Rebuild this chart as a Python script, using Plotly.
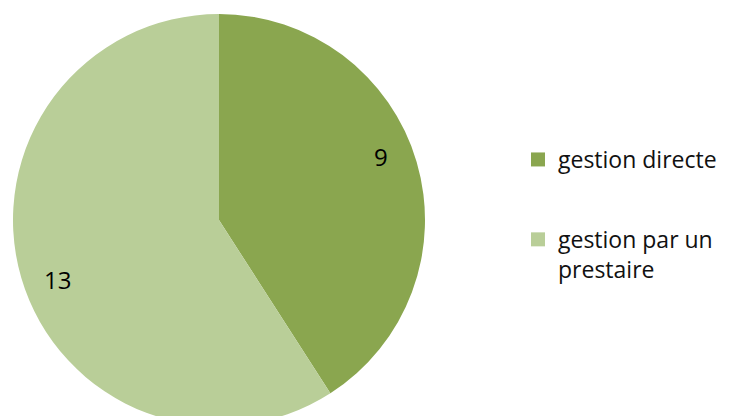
import math
import plotly.graph_objects as go

labels = ["gestion directe", "gestion par un prestaire"]
legend_labels = ["gestion directe", "gestion par un<br>prestaire"]
values = [9, 13]
colors = ["#8AA64F", "#B9CE98"]

W, H = 734, 432
M_T, M_B = 14, 6
DOM_X = [0, 438 / W]
LABEL_R = 0.84       # label distance from centre, fraction of radius
LABEL_SHIFT = -4.5   # degrees, counter-clockwise shift of label from slice middle
FONT = "Open Sans, Liberation Sans, sans-serif"

fig = go.Figure()
fig.add_trace(go.Pie(
    labels=labels,
    values=values,
    sort=False,
    direction="clockwise",
    rotation=0,
    marker=dict(colors=colors, line=dict(width=0)),
    textinfo="none",
    showlegend=False,
    hoverinfo="label+value",
    domain=dict(x=DOM_X, y=[0, 1]),
))

# data labels placed from the slice angles
plot_h = H - M_T - M_B
radius = plot_h / 2
cx = (DOM_X[0] + DOM_X[1]) / 2 * W
cy = M_T + plot_h / 2
total = sum(values)
start = 0.0
for v in values:
    mid = start + v / total * 360 / 2 + LABEL_SHIFT
    start += v / total * 360
    a = math.radians(mid)
    px = cx + LABEL_R * radius * math.sin(a)
    py = cy - LABEL_R * radius * math.cos(a)
    fig.add_annotation(
        x=px / W, y=(H - M_B - py) / plot_h, xref="paper", yref="paper",
        xanchor="center", yanchor="middle", yshift=2,
        text=str(v), showarrow=False,
        font=dict(family=FONT, size=24, color="#000000"),
    )

for i, (lab, col) in enumerate(zip(legend_labels, colors)):
    fig.add_trace(go.Scatter(
        x=[None], y=[None], mode="markers", name=lab,
        marker=dict(symbol="square", size=14, color=col),
        legendgroup=f"g{i}", showlegend=True,
    ))

fig.update_layout(
    width=W, height=H,
    margin=dict(l=0, r=0, t=M_T, b=M_B),
    paper_bgcolor="white", plot_bgcolor="white",
    xaxis=dict(visible=False), yaxis=dict(visible=False),
    legend=dict(
        x=518 / W, y=(H - M_B - 138) / plot_h, xanchor="left", yanchor="top",
        font=dict(family=FONT, size=23, color="#111111"),
        traceorder="grouped", tracegroupgap=47, valign="top",
        itemwidth=30, bgcolor="rgba(0,0,0,0)",
    ),
)

fig.write_html(
    "out.html",
    config={"displayModeBar": False},
    post_script="document.body.style.margin='0';document.body.style.overflow='hidden';document.documentElement.style.overflow='hidden';",
)
